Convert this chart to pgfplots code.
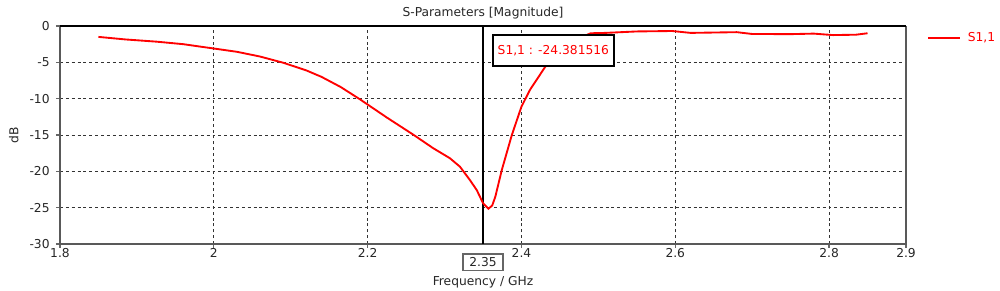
\documentclass[border=0pt]{standalone}
\usepackage{pgfplots}
\pgfplotsset{compat=1.18}
\usepackage{fontspec}
\setmainfont{DejaVu Sans}
\newcommand{\chf}{\fontsize{9.2}{11}\selectfont}
\begin{document}
\begin{tikzpicture}
\useasboundingbox (-45pt,-35.25pt) rectangle (705pt,183pt);
\begin{axis}[
  at={(0,0)}, anchor=south west,
  scale only axis, width=634.5pt, height=163.5pt,
  xmin=1.8, xmax=2.9, ymin=-30, ymax=0,
  clip=false,
  xtick={1.8,2,2.2,2.4,2.6,2.8,2.9},
  xticklabels={1.8,2,2.2,2.4,2.6,2.8,2.9},
  ytick={-30,-25,-20,-15,-10,-5,0},
  yticklabels={-30,-25,-20,-15,-10,-5,0},
  tick align=outside, tick pos=left,
  major tick length=3pt,
  tick style={black!60, line width=0.9pt},
  axis line style={draw=none},
  grid=major,
  grid style={black!80, line width=0.7pt, dash pattern=on 2.2pt off 2.2pt},
  ticklabel style={font=\chf, text=black!85},
  yticklabel style={anchor=east, inner sep=0pt, xshift=-4.6pt},
  xticklabel style={anchor=north, inner sep=0pt, yshift=0pt},
  every axis title shift=0pt,
  title={S-Parameters [Magnitude]},
  title style={at={(axis description cs:0.5,1.0434)}, anchor=base, inner sep=0pt, font=\chf, text=black!85},
  xlabel={Frequency / GHz},
  xlabel style={at={(axis description cs:0.5,-0.19)}, anchor=base, inner sep=0pt, font=\chf, text=black!85},
  ylabel={dB},
  ylabel style={at={(axis description cs:-0.0493,0.5)}, anchor=base, inner sep=0pt, font=\chf, text=black!85},
  legend style={at={(axis description cs:1.0248,0.9436)}, anchor=west, draw=none, fill=none, inner sep=0pt, column sep=5pt, font=\chf, text=red, nodes={inner sep=0pt}},
  legend cell align=left,
  legend image code/.code={\draw[red, line width=1.4pt] (0pt,0pt) -- (24pt,0pt);},
]
% frame
\draw[black!65, line width=1.2pt] (rel axis cs:0,1) -- (rel axis cs:0,0) -- (rel axis cs:1,0) -- (rel axis cs:1,1);
\draw[black, line width=1.2pt] (rel axis cs:0,1) -- (rel axis cs:1,1);
% marker line
\draw[black, line width=1.4pt] (axis cs:2.35,-30) -- (axis cs:2.35,0);
\addplot[red, line width=1.4pt, no marks] table {
x y
1.850 -1.50
1.885 -1.85
1.926 -2.16
1.960 -2.50
2.000 -3.10
2.030 -3.55
2.060 -4.20
2.090 -5.05
2.120 -6.10
2.140 -7.00
2.165 -8.40
2.190 -10.09
2.225 -12.60
2.260 -15.00
2.285 -16.80
2.307 -18.20
2.320 -19.36
2.333 -21.20
2.342 -22.60
2.350 -24.38
2.357 -25.15
2.362 -24.70
2.366 -23.50
2.3745 -19.80
2.3875 -15.00
2.400 -11.10
2.411 -8.80
2.431 -5.60
2.450 -3.40
2.470 -1.90
2.490 -1.00
2.509 -0.95
2.550 -0.75
2.596 -0.69
2.620 -0.95
2.650 -0.90
2.680 -0.85
2.700 -1.10
2.750 -1.12
2.780 -1.05
2.805 -1.25
2.835 -1.20
2.850 -1.00
};
\addlegendentry{S1,1}
% marker value box
\node[draw=black, line width=1.3pt, fill=white, text=red, anchor=north west, inner xsep=3.75pt, inner ysep=0pt, minimum height=23.25pt, minimum width=90pt, font=\chf] at (axis cs:2.3615,-1.1) {S1,1 : -24.381516};
% x marker label box
\node[draw=black!60, line width=0.9pt, fill=white, text=black!85, anchor=center, minimum width=30pt, minimum height=12.5pt, inner sep=0pt, font=\chf] at ([yshift=-13.7pt]axis cs:2.35,-30) {2.35};
\end{axis}
\end{tikzpicture}
\end{document}
